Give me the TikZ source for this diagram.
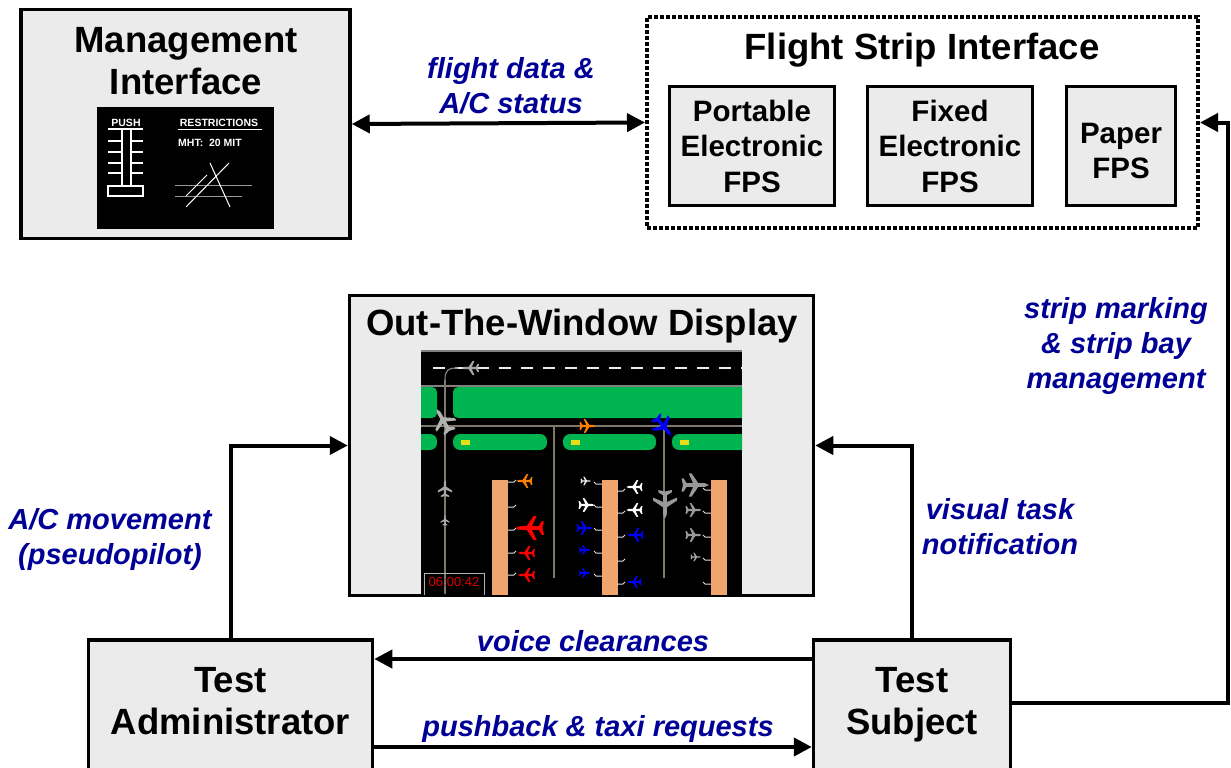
\documentclass[tikz,border=0pt]{standalone}
\usepackage{fontspec}
\setmainfont{Liberation Sans}
\usetikzlibrary{arrows.meta}
\definecolor{boxgray}{RGB}{235,235,235}
\definecolor{labelblue}{RGB}{0,0,150}
\definecolor{grass}{RGB}{0,180,80}
\definecolor{pier}{RGB}{240,165,110}
\definecolor{taxiline}{RGB}{125,120,105}
\newcommand{\plane}[5]{\fill[fill=#4,shift={(#1,#2)},rotate=#3,scale=#5] (9,0) -- (6,1.3) -- (1.5,1.3) -- (-3,8) -- (-5,8) -- (-2,1.3) -- (-6.5,1.3) -- (-8.5,4.5) -- (-10,4.5) -- (-9,0) -- (-10,-4.5) -- (-8.5,-4.5) -- (-6.5,-1.3) -- (-2,-1.3) -- (-5,-8) -- (-3,-8) -- (1.5,-1.3) -- (6,-1.3) -- cycle;}
\begin{document}
\begin{tikzpicture}[x=1pt,y=-1pt]
    \tikzstyle{box}=[draw=black,line width=3.5pt,fill=boxgray,inner sep=0pt]
    \tikzstyle{title}=[font=\fontsize{36.5}{42}\selectfont\bfseries,align=center,inner sep=0pt]
    \tikzstyle{fps}=[box,font=\fontsize{29.5}{35.5}\selectfont\bfseries,align=center]
    \tikzstyle{flow}=[font=\fontsize{29}{35}\selectfont\bfseries\itshape,text=labelblue,align=center,inner sep=0pt]
    \tikzstyle{arr}=[line width=4pt,-{Triangle[length=18pt,width=18pt]}]
    \tikzstyle{scr}=[text=white,font=\fontsize{10.5}{12}\selectfont\bfseries,inner sep=0pt]
    \tikzstyle{stand}=[white!75!gray,line width=1pt]
    \useasboundingbox (0,0) rectangle (1231,768);
    \clip (0,0) rectangle (1231,768);
    \fill[white] (0,0) rectangle (1231,768);

    \node[box,minimum width=329,minimum height=229] (mgmt) at (185.5,124) {};
    \node[title] (mgmttitle) at (186,61) {Management\\Interface};
    \node[fill=black,minimum width=177,minimum height=122,inner sep=0pt] (screen) at (185.5,168) {};
    \node[scr] (push) at (126,123) {PUSH};
    \node[scr] (restr) at (219,123) {RESTRICTIONS};
    \node[scr,anchor=west] (mht) at (178,143) {MHT:\ \ 20 MIT};
    \draw[white,line width=1pt] (178,129.5) -- (262,129.5);
    \draw[white,line width=1.2pt] (108,129) -- (143,129) (122,129) -- (122,186) (131,129) -- (131,186);
    \foreach \y in {141,152,163,173}
        \draw[white,line width=1.2pt] (108,\y) -- (122,\y) (131,\y) -- (143,\y);
    \draw[white,line width=1.2pt] (108,186) rectangle (143,196);
    \draw[gray!80,line width=1pt] (175,185) -- (252,185) (175,196) -- (242,196);
    \draw[white,line width=1pt] (186,207) -- (229,163) (186,196) -- (207,175) (210,163) -- (230,207);

    \node[draw=black,line width=4pt,dash pattern=on 3.7pt off 2.3pt,minimum width=551,minimum height=211,inner sep=0pt] (fsi) at (922.5,122.5) {};
    \node[title] (fsititle) at (922,50) {Flight Strip Interface};
    \node[fps,minimum width=165,minimum height=119] (portable) at (752,146) {Portable\\Electronic\\FPS};
    \node[fps,minimum width=165,minimum height=119] (fixed) at (950,146) {Fixed\\Electronic\\FPS};
    \node[fps,minimum width=109,minimum height=119,text height=66pt] (paper) at (1121,146) {Paper\\FPS};

    \node[box,minimum width=464,minimum height=300] (otw) at (581.5,445.5) {};
    \node[title] (otwtitle) at (582,326) {Out-The-Window Display};
    \begin{scope}
        \clip (421,350) rectangle (742,594);
        \fill[black] (421,350) rectangle (742,594);
        \draw[gray,line width=1.5pt] (421,351) -- (742,351);
        \draw[white!85!gray,line width=1.5pt,dash pattern=on 12pt off 10pt] (433,368) -- (742,368);
        \draw[gray,line width=1.2pt] (421,386) -- (742,386);
        \fill[grass,rounded corners=5] (453,387) rectangle (760,418);
        \fill[grass,rounded corners=5] (405,387) rectangle (437,418);
        \draw[taxiline,line width=1.2pt] (421,426) -- (742,426);
        \foreach \a/\b in {405/437,453/547,563/656,672/760}
            \fill[grass,rounded corners=7] (\a,434) rectangle (\b,450);
        \foreach \x in {455,565,674}
            \fill[yellow!90!black] (\x+6,440) rectangle (\x+15,445);
        \draw[taxiline,line width=1.2pt] (445,380) -- (445,594) (554,427) -- (554,578) (664,427) -- (664,578);
        \draw[gray,line width=1.2pt] (445,380) .. controls (445,370) and (448,368) .. (458,368);
        \foreach \x in {492,602,711}
            \fill[pier] (\x,480) rectangle (\x+16,600);
        \foreach \y in {482,507,530,553,575}
            \draw[stand] (508,\y) -- (514,\y) -- (516,\y-2);
        \foreach \y in {484,507,530,553,576}
            \draw[stand] (602,\y) -- (596,\y) -- (594,\y-2);
        \foreach \y in {491,513,537,561,584}
            \draw[stand] (617,\y) -- (623,\y) -- (625,\y-2);
        \foreach \y in {490,513,537,560,584}
            \draw[stand] (711,\y) -- (705,\y) -- (703,\y-2);
        \foreach \x/\y/\r/\c/\s in {470/368/180/gray!70/0.9, 443/420/120/gray!60/1.4, 588/426/0/orange/0.85, 664/427/-50/blue/1.3, 445/488/90/gray!70/0.9, 445/520/90/gray!60/0.55, 524/481/180/orange/0.85, 529/528/180/red/1.5, 526/553/180/red/0.9, 526/575/180/red/0.9, 586/481/0/white!85!gray/0.55, 587/505/0/white/0.85, 585/528/0/blue/0.85, 585/550/0/blue/0.6, 585/573/0/blue/0.6, 634/487/180/white/0.85, 634/510/180/white/0.85, 635/535/180/blue/0.85, 634/582/180/blue/0.75, 665/505/-90/gray!80/1.5, 696/485/0/gray!80/1.45, 694/510/0/gray!80/0.85, 694/535/0/gray!80/0.85, 696/557/0/gray!70/0.55}
            \plane{\x}{\y}{\r}{\c}{\s};
        \draw[gray!60,line width=0.8pt] (424,573) rectangle (484,600);
        \node[text=red!85!black,font=\fontsize{13}{13}\selectfont,inner sep=0pt] (clock) at (454,582) {06:00:42};
    \end{scope}

    \node[box,anchor=north,minimum width=284,minimum height=140] (ta) at (230.5,638) {};
    \node[title] (tatitle) at (230.5,701) {Test\\Administrator};
    \node[box,anchor=north,minimum width=197,minimum height=140] (ts) at (912,638) {};
    \node[title] (tstitle) at (912,705) {Test\\Subject};

    \coordinate (voice) at (600,659);
    \coordinate (request) at (600,747);
    \coordinate (corner) at (1228,703);
    \draw[arr,{Triangle[length=18pt,width=18pt]}-{Triangle[length=18pt,width=18pt]}] (mgmt.east) -- (fsi.west);
    \draw[arr] (ta.north) |- (otw.west);
    \draw[arr] (ts.north) |- (otw.east);
    \draw[arr] (ts.west |- voice) -- (ta.east |- voice);
    \draw[arr] (ta.east |- request) -- (ts.west |- request);
    \draw[arr] (ts.east |- corner) -- (corner) |- (fsi.east);

    \node[flow] (flightdata) at (511,86) {flight data \&\\A/C status};
    \node[flow] (stripmark) at (1116,346) {strip marking\\\& strip bay\\management};
    \node[flow] (movement) at (110,539) {A/C movement\\(pseudopilot)};
    \node[flow] (visual) at (1000,527) {visual task\\notification};
    \node[flow] (voicelabel) at (593,641) {voice clearances};
    \node[flow] (requestlabel) at (598,729) {pushback \& taxi requests};
\end{tikzpicture}
\end{document}
